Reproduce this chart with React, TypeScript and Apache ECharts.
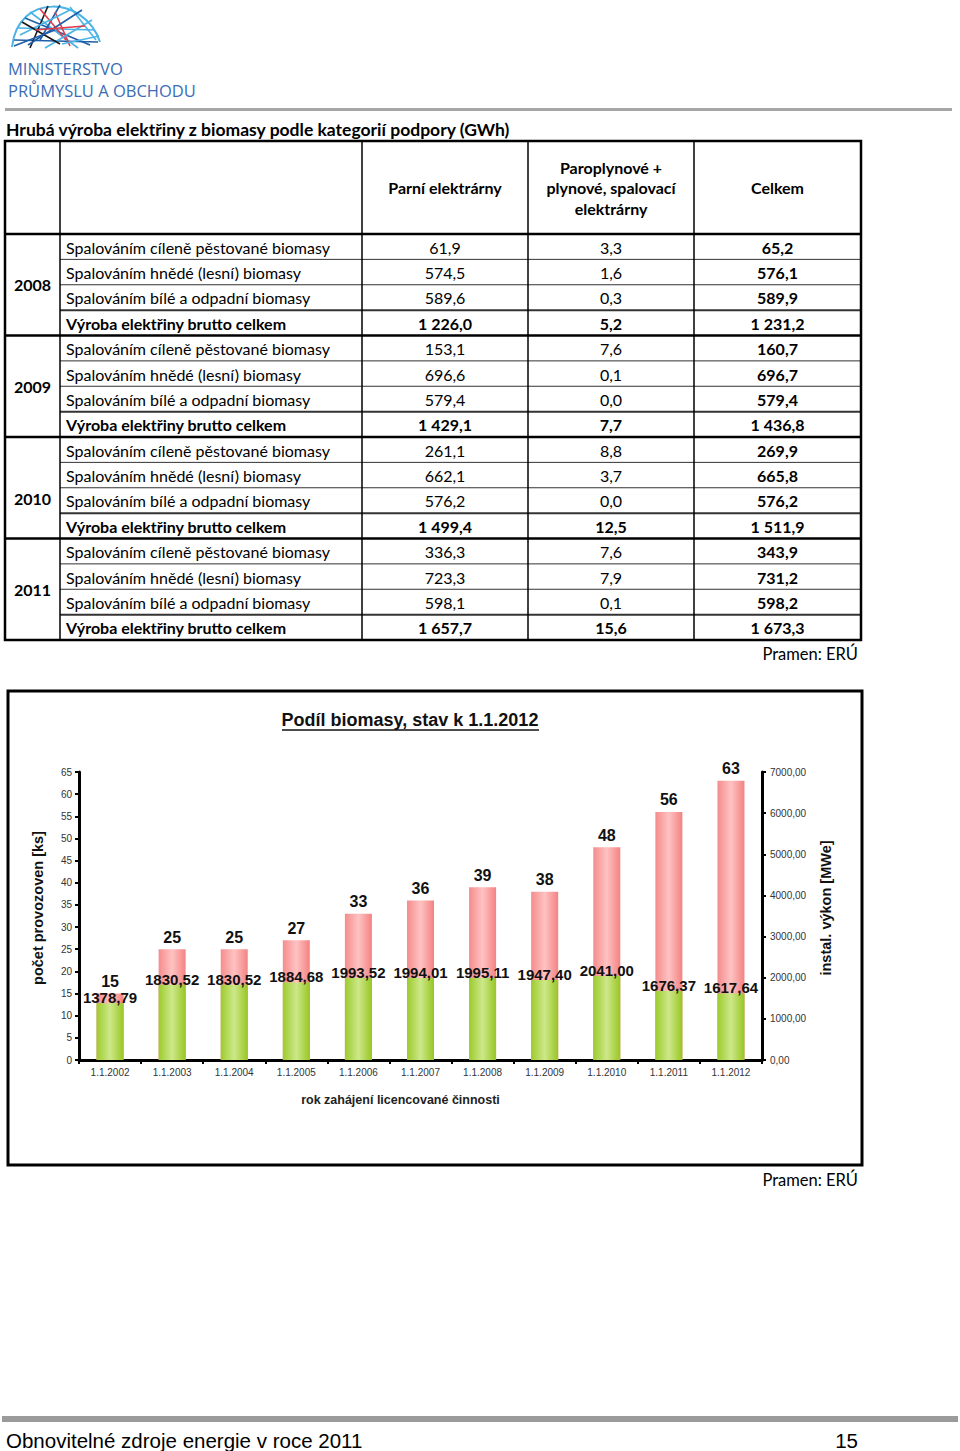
import React, { useEffect, useRef } from 'react';
import * as echarts from 'echarts';

// ---------- Table data ----------
const tableTitle = 'Hrubá výroba elektřiny z biomasy podle kategorií podpory (GWh)';
const years = ['2008', '2009', '2010', '2011'];
const rowLabels = [
  'Spalováním cíleně pěstované biomasy',
  'Spalováním hnědé (lesní) biomasy',
  'Spalováním bílé a odpadní biomasy',
  'Výroba elektřiny brutto celkem',
];
const colHeaders = ['Parní elektrárny', 'Paroplynové +\nplynové, spalovací\nelektrárny', 'Celkem'];
const parni = [
  [61.9, 574.5, 589.6, 1226.0],
  [153.1, 696.6, 579.4, 1429.1],
  [261.1, 662.1, 576.2, 1499.4],
  [336.3, 723.3, 598.1, 1657.7],
];
const paroplyn = [
  [3.3, 1.6, 0.3, 5.2],
  [7.6, 0.1, 0.0, 7.7],
  [8.8, 3.7, 0.0, 12.5],
  [7.6, 7.9, 0.1, 15.6],
];
const celkem = [
  [65.2, 576.1, 589.9, 1231.2],
  [160.7, 696.7, 579.4, 1436.8],
  [269.9, 665.8, 576.2, 1511.9],
  [343.9, 731.2, 598.2, 1673.3],
];
const sourceNote = 'Pramen: ERÚ';

// ---------- Chart data ----------
const chartTitle = 'Podíl biomasy, stav k 1.1.2012';
const categories = ['1.1.2002', '1.1.2003', '1.1.2004', '1.1.2005', '1.1.2006', '1.1.2007', '1.1.2008', '1.1.2009', '1.1.2010', '1.1.2011', '1.1.2012'];
const plantCounts = [15, 25, 25, 27, 33, 36, 39, 38, 48, 56, 63];
const installedMWe = [1378.79, 1830.52, 1830.52, 1884.68, 1993.52, 1994.01, 1995.11, 1947.40, 2041.00, 1676.37, 1617.64];
const leftAxisName = 'počet provozoven [ks]';
const rightAxisName = 'instal. výkon [MWe]';
const xAxisName = 'rok zahájení licencované činnosti';
const leftMax = 65, leftStep = 5;
const rightMax = 7000, rightStep = 1000;

const footerText = 'Obnovitelné zdroje energie v roce 2011';
const pageNumber = '15';

// ---------- helpers ----------
const fmtCz = (v: number, d: number, sep = ' ') => {
  const s = v.toFixed(d);
  const [i, f] = s.split('.');
  const ii = i.replace(/\B(?=(\d{3})+(?!\d))/g, sep);
  return f !== undefined ? ii + ',' + f : ii;
};

const TF = 'Lato';
const AF = 'Liberation Sans';

function txt(x: number, y: number, text: string, opts: any = {}) {
  return {
    type: 'text',
    x, y,
    silent: true,
    style: {
      text,
      fill: opts.fill || '#000',
      fontSize: opts.fontSize || 16,
      fontFamily: opts.fontFamily || TF,
      fontWeight: opts.fontWeight || 'normal',
      align: opts.align || 'left',
      verticalAlign: opts.verticalAlign || 'middle',
      lineHeight: opts.lineHeight,
    },
  };
}
function ln(x1: number, y1: number, x2: number, y2: number, w: number, c = '#000') {
  return { type: 'line', silent: true, shape: { x1, y1, x2, y2 }, style: { stroke: c, lineWidth: w } };
}

function buildTable() {
  const els: any[] = [];
  const colX = [5, 60, 362, 528, 694, 861];
  const top = 141, headBottom = 234, bottom = 640;
  const groupH = (bottom - headBottom) / years.length;
  const rowH = groupH / rowLabels.length;
  const yearShift = [0, 0, 11, 0];

  els.push(txt(6, 129, tableTitle, { fontWeight: 'bold', fontSize: 17.5 }));

  const hy = (top + headBottom) / 2;
  colHeaders.forEach((h, i) => {
    const cx = (colX[i + 2] + colX[i + 3]) / 2;
    els.push(txt(cx, hy, h, { fontWeight: 'bold', align: 'center', lineHeight: 20.5 }));
  });

  years.forEach((yr, g) => {
    const gTop = headBottom + g * groupH;
    els.push(txt((colX[0] + colX[1]) / 2, gTop + groupH / 2 + yearShift[g], yr, { fontWeight: 'bold', align: 'center' }));
    rowLabels.forEach((lab, r) => {
      const cy = gTop + r * rowH + rowH / 2 + 0.5;
      const bold = r === rowLabels.length - 1;
      els.push(txt(66, cy, lab, { fontWeight: bold ? 'bold' : 'normal' }));
      const vals = [parni[g][r], paroplyn[g][r], celkem[g][r]];
      vals.forEach((v, c) => {
        const cx = (colX[c + 2] + colX[c + 3]) / 2;
        els.push(txt(cx, cy, fmtCz(v, 1), { fontWeight: bold || c === 2 ? 'bold' : 'normal', align: 'center' }));
      });
      if (r > 0) {
        const y = gTop + r * rowH;
        els.push(ln(colX[1], y, colX[5], y, r === rowLabels.length - 1 ? 2 : 1, '#333'));
      }
    });
    if (g > 0) els.push(ln(colX[0], gTop, colX[5], gTop, 2.5));
  });
  els.push(ln(colX[0], headBottom, colX[5], headBottom, 2.5));
  for (let i = 1; i < 5; i++) els.push(ln(colX[i], top, colX[i], bottom, 1.5));
  els.push({ type: 'rect', silent: true, shape: { x: colX[0], y: top, width: colX[5] - colX[0], height: bottom - top }, style: { fill: 'none', stroke: '#000', lineWidth: 2.5 } });
  els.push(txt(858, 654, sourceNote, { align: 'right', fontSize: 16.5 }));
  return els;
}

function buildLogo() {
  const els: any[] = [];
  const lb = '#4bb4e6', db = '#1f5ea8', rd = '#e23a4a', bk = '#1a1a1a';
  els.push({ type: 'bezierCurve', silent: true, shape: { x1: 12, y1: 47, x2: 100, y2: 42, cpx1: 18, cpy1: -8, cpx2: 85, cpy2: -4 }, style: { stroke: lb, lineWidth: 2, fill: 'none' } });
  const segs: [number, number, number, number, string][] = [
    [14, 40, 98, 42, db], [18, 28, 95, 30, lb], [25, 18, 90, 45, db], [30, 12, 78, 48, lb],
    [48, 6, 30, 48, bk], [60, 5, 40, 40, db], [70, 7, 96, 40, lb], [40, 9, 66, 40, rd],
    [55, 12, 70, 46, rd], [20, 35, 70, 10, lb], [28, 45, 82, 10, db], [45, 48, 92, 20, lb],
    [22, 22, 60, 44, bk], [14, 46, 55, 30, db], [62, 44, 99, 36, lb], [35, 30, 85, 26, rd],
  ];
  segs.forEach(s => els.push(ln(s[0], s[1], s[2], s[3], 1.6, s[4])));
  els.push(txt(8, 68, 'MINISTERSTVO', { fontFamily: 'Open Sans', fontSize: 16.5, fill: '#3a6db5', lineHeight: 17 }));
  els.push(txt(8, 90, 'PRŮMYSLU A OBCHODU', { fontFamily: 'Open Sans', fontSize: 16.5, fill: '#3a6db5', lineHeight: 17 }));
  return els;
}

export default function App() {
  const ref = useRef<HTMLDivElement>(null);
  useEffect(() => {
    if (!ref.current) return;
    const chart = echarts.init(ref.current, null, { renderer: 'svg' });
    const red = new echarts.graphic.LinearGradient(0, 0, 1, 0, [
      { offset: 0, color: '#f58c8c' }, { offset: 0.5, color: '#ffc2c2' }, { offset: 1, color: '#f48282' },
    ]);
    const green = new echarts.graphic.LinearGradient(0, 0, 1, 0, [
      { offset: 0, color: '#9ccb2c' }, { offset: 0.5, color: '#cde88a' }, { offset: 1, color: '#98c623' },
    ]);
    const graphics: any[] = [
      ...buildLogo(),
      ln(5, 109.5, 952, 109.5, 3, '#a6a6a6'),
      ...buildTable(),
      { type: 'rect', silent: true, shape: { x: 8, y: 691, width: 854, height: 474 }, style: { fill: 'none', stroke: '#000', lineWidth: 3 } },
      txt(410, 720, chartTitle, { fontFamily: AF, fontWeight: 'bold', fontSize: 18, align: 'center', fill: '#111' }),
      ln(282, 730, 539, 730, 1.5, '#111'),
      txt(858, 1180, sourceNote, { align: 'right', fontSize: 16.5 }),
      ln(2, 1419, 958, 1419, 6, '#9b9b9b'),
      txt(6, 1440, footerText, { fontFamily: AF, fontSize: 20.5 }),
      txt(858, 1440, pageNumber, { fontFamily: AF, fontSize: 20.5, align: 'right' }),
    ];
    chart.setOption({
      animation: false,
      backgroundColor: '#fff',
      graphic: { elements: graphics },
      grid: { left: 79, right: 198, top: 772, bottom: 391, containLabel: false },
      xAxis: {
        type: 'category',
        data: categories,
        axisLine: { lineStyle: { color: '#000', width: 3 } },
        axisTick: { show: true, length: 4, interval: 0, lineStyle: { color: '#000', width: 2 } },
        axisLabel: { fontFamily: AF, fontSize: 10, color: '#333', margin: 7 },
        name: xAxisName,
        nameLocation: 'middle',
        nameGap: 33,
        nameTextStyle: { fontFamily: AF, fontWeight: 'bold', fontSize: 12.5, color: '#222', padding: [0, 40, 0, 0] },
      },
      yAxis: [
        {
          type: 'value', min: 0, max: leftMax, interval: leftStep, position: 'left',
          axisLine: { show: true, lineStyle: { color: '#000', width: 3 } },
          axisTick: { show: true, length: 4, lineStyle: { color: '#000', width: 2 } },
          splitLine: { show: false },
          axisLabel: { fontFamily: AF, fontSize: 10, color: '#333', margin: 7 },
          name: leftAxisName, nameLocation: 'middle', nameGap: 34,
          nameTextStyle: { fontFamily: AF, fontWeight: 'bold', fontSize: 14.5, color: '#111', padding: [0, 0, 0, 16] },
        },
        {
          type: 'value', min: 0, max: rightMax, interval: rightStep, position: 'right',
          axisLine: { show: true, lineStyle: { color: '#000', width: 3 } },
          axisTick: { show: true, length: 4, lineStyle: { color: '#000', width: 2 } },
          splitLine: { show: false },
          axisLabel: { fontFamily: AF, fontSize: 10, color: '#333', margin: 8, formatter: (v: number) => fmtCz(v, 2, '') },
          name: rightAxisName, nameLocation: 'middle', nameGap: 56,
          nameTextStyle: { fontFamily: AF, fontWeight: 'bold', fontSize: 14.5, color: '#111', padding: [0, 0, 0, 16] },
        },
      ],
      series: [
        {
          type: 'bar', name: 'počet', yAxisIndex: 0, data: plantCounts, barWidth: 27, barGap: '-100%',
          itemStyle: { color: red }, z: 2,
          label: { show: true, position: 'top', distance: 4, fontFamily: AF, fontWeight: 'bold', fontSize: 16, color: '#111' },
        },
        {
          type: 'bar', name: 'výkon', yAxisIndex: 1, data: installedMWe, barWidth: 27,
          itemStyle: { color: green }, z: 3,
          label: { show: true, position: 'top', distance: -2, fontFamily: AF, fontWeight: 'bold', fontSize: 15, color: '#111', formatter: (p: any) => fmtCz(p.value, 2, '') },
        },
      ],
    });
    return () => chart.dispose();
  }, []);
  return <div ref={ref} style={{ position: 'absolute', left: 0, top: 0, width: 960, height: 1451 }} />;
}
